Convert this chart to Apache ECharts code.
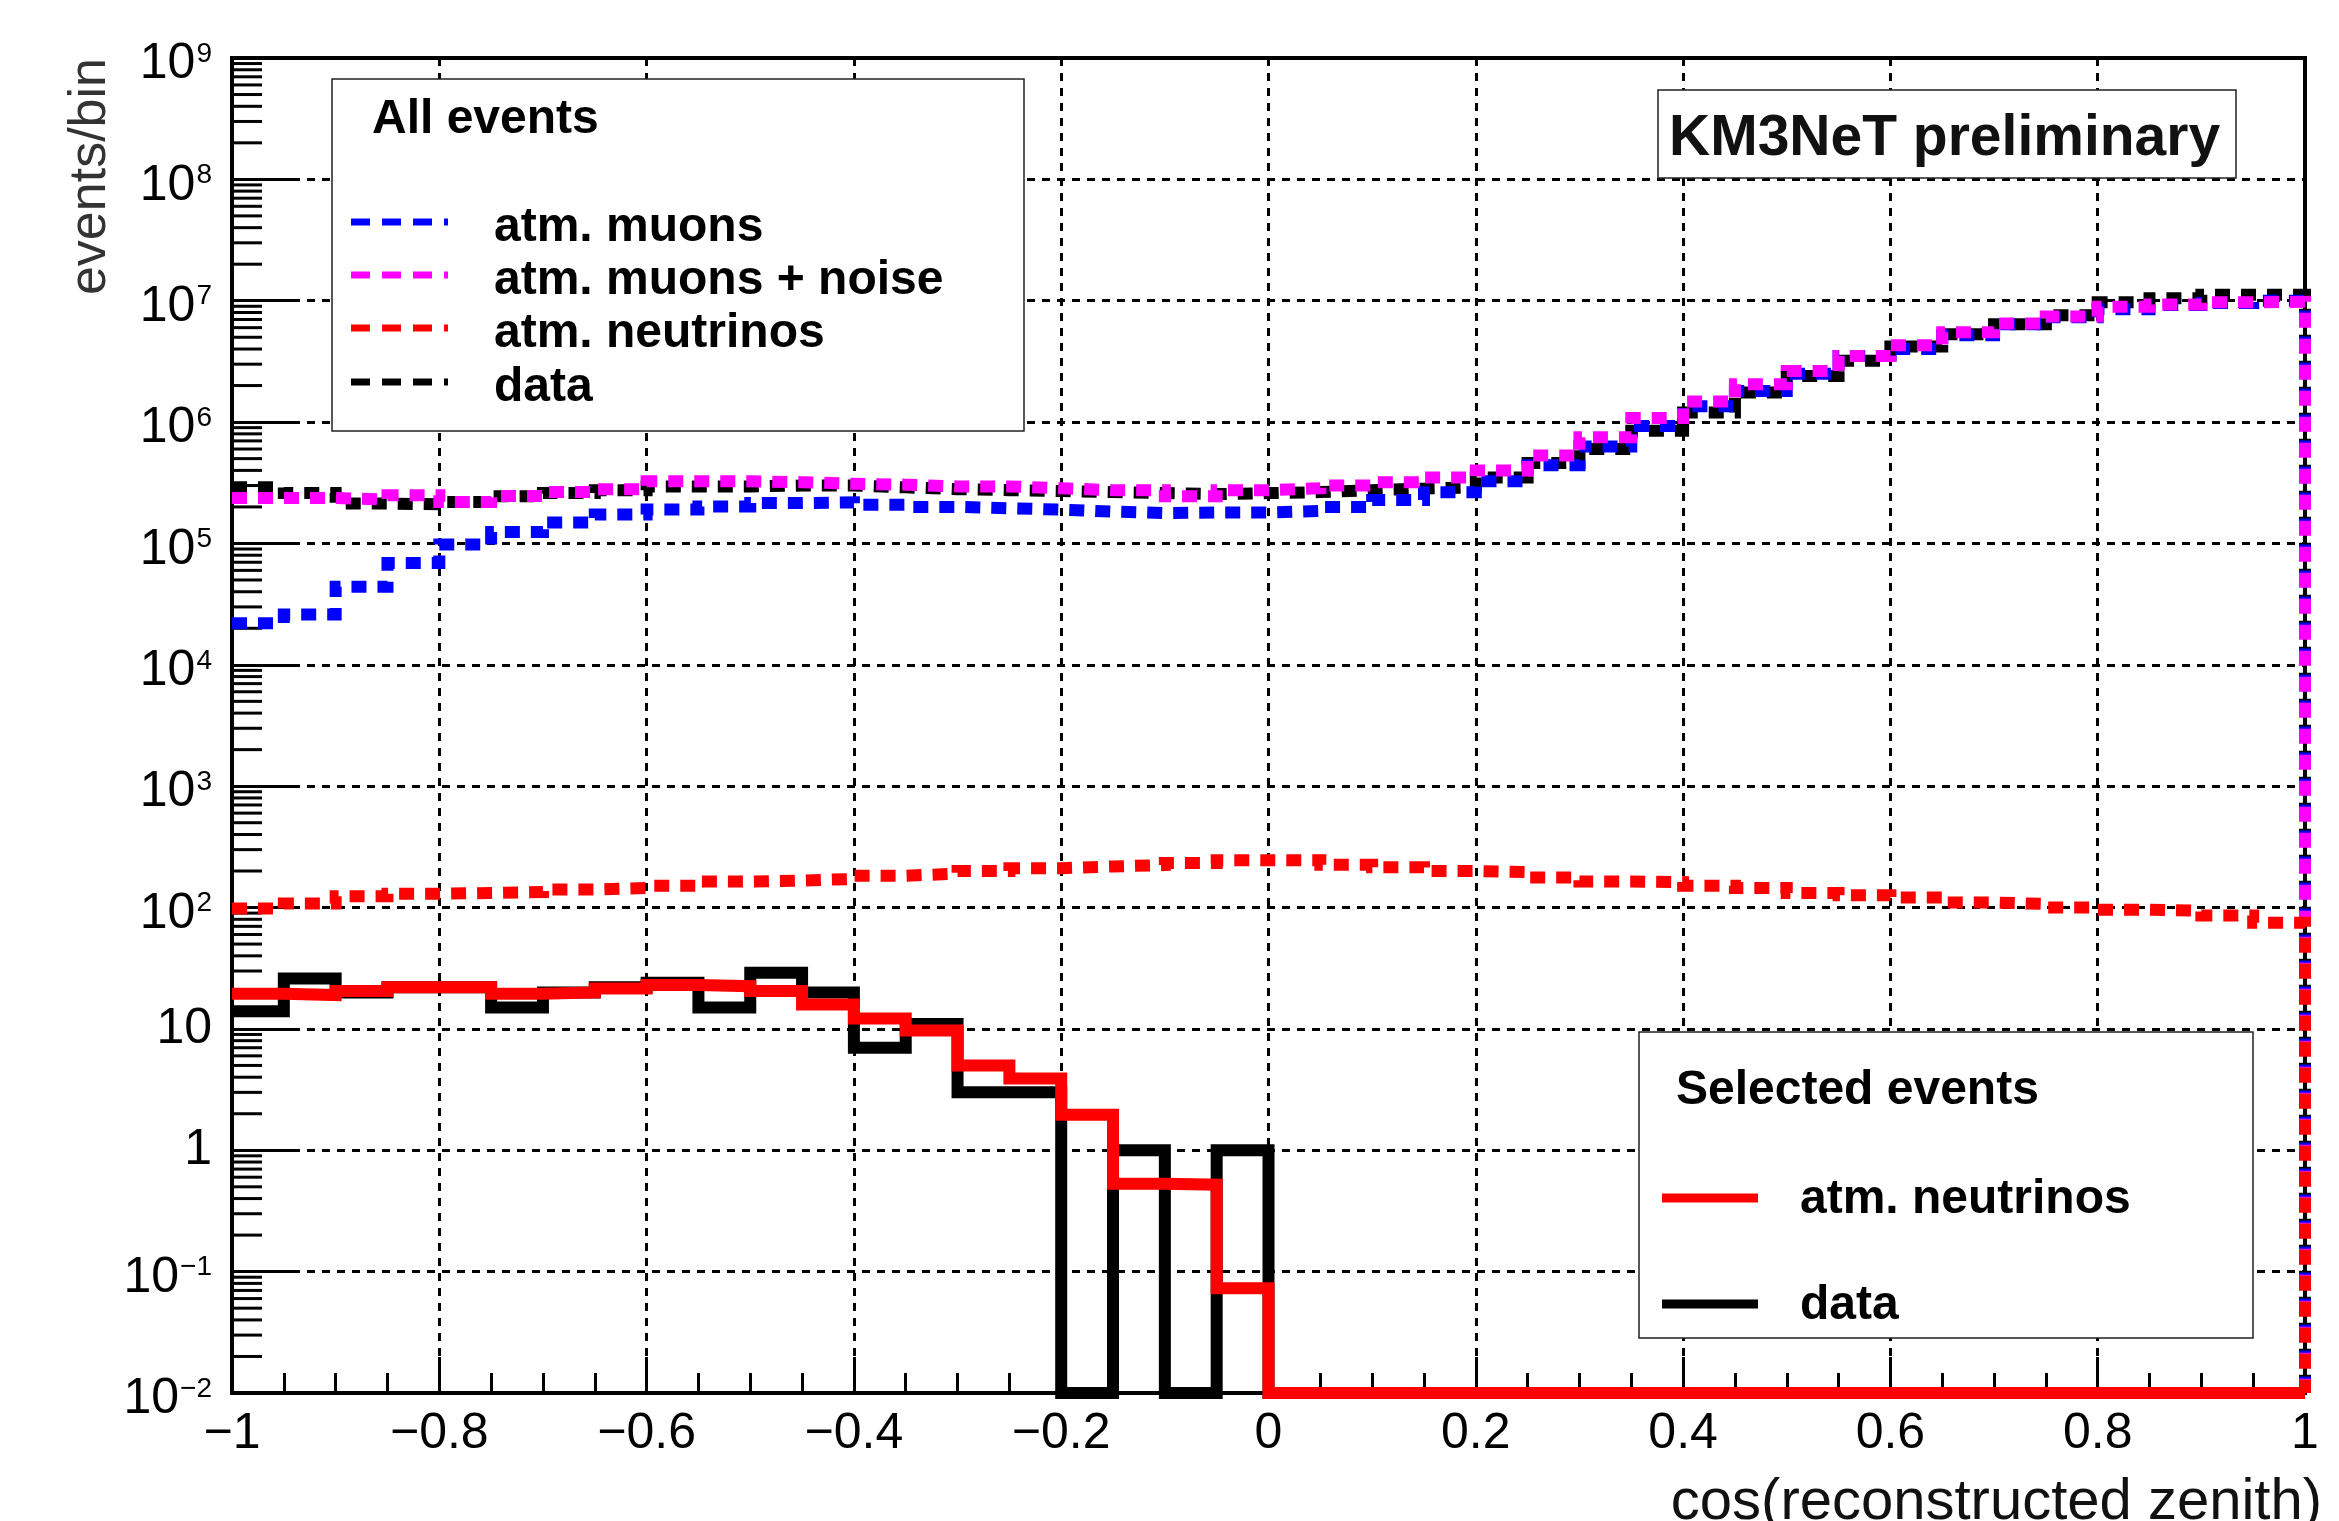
<!DOCTYPE html>
<html>
<head>
<meta charset="utf-8">
<title>cos(reconstructed zenith)</title>
<script src="https://cdn.jsdelivr.net/npm/echarts@6/dist/echarts.min.js"></script>
<style>
  html, body { margin: 0; padding: 0; background: #fff; }
  #chart { width: 2339px; height: 1521px; }
</style>
</head>
<body>
<div id="chart"></div>
<script>
const FONT = "'Liberation Sans', Arial, Helvetica, sans-serif";
const Y_MIN = 0.01;
const Y_MAX = 1e9;
const X_MIN = -1;
const X_MAX = 1;

// lower edges of the 40 bins (width 0.05)
const binLow = [
  -1.00, -0.95, -0.90, -0.85, -0.80, -0.75, -0.70, -0.65, -0.60, -0.55,
  -0.50, -0.45, -0.40, -0.35, -0.30, -0.25, -0.20, -0.15, -0.10, -0.05,
   0.00,  0.05,  0.10,  0.15,  0.20,  0.25,  0.30,  0.35,  0.40,  0.45,
   0.50,  0.55,  0.60,  0.65,  0.70,  0.75,  0.80,  0.85,  0.90,  0.95
];

// All events
const allMuons = [
  2.2e4, 2.6e4, 4.4e4, 6.9e4, 9.8e4, 1.24e5, 1.49e5, 1.73e5, 1.9e5, 2.02e5,
  2.15e5, 2.18e5, 2.08e5, 2.0e5, 1.95e5, 1.9e5, 1.83e5, 1.78e5, 1.8e5, 1.8e5,
  1.85e5, 2.0e5, 2.28e5, 2.64e5, 3.25e5, 4.4e5, 6.3e5, 9.3e5, 1.35e6, 1.8e6,
  2.5e6, 3.5e6, 4.0e6, 5.2e6, 6.4e6, 7.3e6, 8.5e6, 9.2e6, 9.6e6, 1.0e7
];
const allMuonsNoise = [
  2.37e5, 2.37e5, 2.3e5, 2.5e5, 2.2e5, 2.46e5, 2.65e5, 2.8e5, 3.25e5, 3.25e5,
  3.2e5, 3.1e5, 3.05e5, 2.95e5, 2.95e5, 2.85e5, 2.75e5, 2.75e5, 2.45e5, 2.75e5,
  2.85e5, 3.0e5, 3.2e5, 3.5e5, 4.0e5, 5.3e5, 7.5e5, 1.08e6, 1.48e6, 2.05e6,
  2.64e6, 3.5e6, 4.3e6, 5.5e6, 6.5e6, 7.4e6, 8.9e6, 9.3e6, 9.7e6, 9.8e6
];
const allNeutrinos = [
  98, 108, 124, 130, 132, 134, 141, 145, 151, 164,
  167, 172, 183, 190, 200, 211, 218, 224, 233, 245,
  245, 225, 215, 200, 196, 177, 164, 162, 151, 145,
  132, 126, 121, 110, 107, 100, 96, 94, 86, 75
];
const allData = [
  2.9e5, 2.6e5, 2.13e5, 2.1e5, 2.2e5, 2.45e5, 2.6e5, 2.75e5, 2.95e5, 2.95e5,
  3.0e5, 3.0e5, 2.9e5, 2.8e5, 2.75e5, 2.7e5, 2.65e5, 2.6e5, 2.55e5, 2.6e5,
  2.65e5, 2.75e5, 2.83e5, 2.9e5, 3.5e5, 4.6e5, 6.0e5, 8.5e5, 1.2e6, 1.75e6,
  2.4e6, 3.2e6, 4.2e6, 5.3e6, 6.4e6, 7.6e6, 9.7e6, 1.05e7, 1.12e7, 1.12e7
];

// Selected events
const selNeutrinos = [
  19.5, 19, 20.5, 22, 22, 19.5, 20, 21.5, 23, 22.5,
  20.5, 15.9, 12.2, 9.7, 5.0, 3.9, 1.96, 0.53, 0.52, 0.073,
  0, 0, 0, 0, 0, 0, 0, 0, 0, 0,
  0, 0, 0, 0, 0, 0, 0, 0, 0, 0
];
const selData = [
  14, 26, 20, 22, 22, 15, 20, 22, 24, 15,
  29, 20, 7, 11, 3, 3, 0, 1, 0, 1,
  0, 0, 0, 0, 0, 0, 0, 0, 0, 0,
  0, 0, 0, 0, 0, 0, 0, 0, 0, 0
];

const yDecades = [-2, -1, 0, 1, 2, 3, 4, 5, 6, 7, 8, 9];
const yMinorSteps = [2, 3, 4, 5, 6, 7, 8, 9];

// empty bins sit on the axis floor, like ROOT does on a log scale
function histPoints(vals) {
  const pts = vals.map((v, i) => [binLow[i], Math.max(v, Y_MIN)]);
  pts.push([X_MAX, Math.max(vals[vals.length - 1], Y_MIN)]);
  pts.push([X_MAX, Y_MIN]);
  return pts;
}

const yMinorTicks = [];
yDecades.slice(0, -1).forEach((e) => {
  yMinorSteps.forEach((m) => yMinorTicks.push([X_MIN, m * Math.pow(10, e)]));
});

function yLabel(v) {
  const e = Math.round(Math.log10(v));
  if (e === 0) return '{p|1}';
  if (e === 1) return '{p|10}';
  return '{b|10}{s|' + (e < 0 ? '\u2212' + (-e) : e) + '}';
}

function histSeries(name, vals, color, dashed) {
  return {
    name: name,
    type: 'line',
    step: 'end',
    data: histPoints(vals),
    showSymbol: false,
    clip: false,
    silent: true,
    lineStyle: {
      color: color,
      width: 12,
      type: dashed ? [15, 11] : 'solid',
      cap: 'butt',
      join: 'miter'
    }
  };
}

const chart = echarts.init(document.getElementById('chart'), null, { renderer: 'canvas' });

const legendRows1 = [
  { label: 'atm. muons', color: '#0000ff', y: 224 },
  { label: 'atm. muons + noise', color: '#ff00ff', y: 277 },
  { label: 'atm. neutrinos', color: '#ff0000', y: 330 },
  { label: 'data', color: '#000000', y: 384 }
];
const legendRows2 = [
  { label: 'atm. neutrinos', color: '#ff0000', y: 1198 },
  { label: 'data', color: '#000000', y: 1304 }
];

const graphics = [
  // All events legend
  { type: 'rect', z: 100, shape: { x: 332, y: 79, width: 692, height: 352 },
    style: { fill: '#fff', stroke: '#222', lineWidth: 1.5 } },
  { type: 'text', z: 101, x: 372, y: 120,
    style: { text: 'All events', font: 'bold 48px ' + FONT, fill: '#000', verticalAlign: 'middle' } },
  // Selected events legend
  { type: 'rect', z: 100, shape: { x: 1639, y: 1032, width: 614, height: 306 },
    style: { fill: '#fff', stroke: '#222', lineWidth: 1.5 } },
  { type: 'text', z: 101, x: 1676, y: 1091,
    style: { text: 'Selected events', font: 'bold 48px ' + FONT, fill: '#000', verticalAlign: 'middle' } },
  // KM3NeT label
  { type: 'rect', z: 100, shape: { x: 1658, y: 90, width: 578, height: 88 },
    style: { fill: '#fff', stroke: '#222', lineWidth: 1.5 } },
  { type: 'text', z: 101, x: 1669, y: 139,
    style: { text: 'KM3NeT preliminary', font: 'bold 57px ' + FONT, fill: '#111', verticalAlign: 'middle' } },
  // axis titles
  { type: 'text', z: 101, x: 91, y: 58, rotation: Math.PI / 2,
    style: { text: 'events/bin', font: '52px ' + FONT, fill: '#333', align: 'right', verticalAlign: 'middle' } },
  { type: 'text', z: 101, x: 2322, y: 1503,
    style: { text: 'cos(reconstructed zenith)', font: '58px ' + FONT, fill: '#111', align: 'right', verticalAlign: 'middle' } }
];
legendRows1.forEach((r) => {
  graphics.push({ type: 'line', z: 101, shape: { x1: 351, y1: r.y - 2, x2: 448, y2: r.y - 2 },
    style: { stroke: r.color, lineWidth: 7, lineDash: [19, 12] } });
  graphics.push({ type: 'text', z: 101, x: 494, y: r.y + 4,
    style: { text: r.label, font: 'bold 48px ' + FONT, fill: '#000', verticalAlign: 'middle' } });
});
legendRows2.forEach((r) => {
  graphics.push({ type: 'line', z: 101, shape: { x1: 1662, y1: r.y, x2: 1758, y2: r.y },
    style: { stroke: r.color, lineWidth: 9 } });
  graphics.push({ type: 'text', z: 101, x: 1800, y: r.y + 2,
    style: { text: r.label, font: 'bold 48px ' + FONT, fill: '#000', verticalAlign: 'middle' } });
});

const options = {
  animation: false,
  backgroundColor: '#fff',
  grid: {
    left: 232, top: 58, width: 2073, height: 1335,
    show: true, borderColor: '#000', borderWidth: 4, backgroundColor: 'transparent'
  },
  xAxis: {
    type: 'value',
    min: X_MIN,
    max: X_MAX,
    interval: 0.2,
    axisLine: { show: true, onZero: false, lineStyle: { color: '#000', width: 4 } },
    axisTick: { show: true, inside: true, length: 36, lineStyle: { color: '#000', width: 3 } },
    minorTick: { show: true, splitNumber: 4, length: 20, lineStyle: { color: '#000', width: 3 } },
    splitLine: { show: true, lineStyle: { color: '#000', width: 3, type: [8, 7] } },
    axisLabel: {
      margin: 16,
      fontSize: 50,
      fontFamily: FONT,
      color: '#000',
      formatter: (v) => String(Math.round(v * 10) / 10).replace('-', '\u2212')
    }
  },
  yAxis: {
    type: 'log',
    logBase: 10,
    min: Y_MIN,
    max: Y_MAX,
    interval: 1,
    axisLine: { show: true, onZero: false, lineStyle: { color: '#000', width: 4 } },
    axisTick: { show: true, inside: true, length: 62, lineStyle: { color: '#000', width: 3 } },
    splitLine: { show: true, lineStyle: { color: '#000', width: 3, type: [8, 7] } },
    axisLabel: {
      margin: 20,
      color: '#000',
      formatter: yLabel,
      rich: {
        p: { fontSize: 50, lineHeight: 50, fontFamily: FONT, color: '#000' },
        b: { fontSize: 50, lineHeight: 50, fontFamily: FONT, color: '#000', padding: [13, 0, 0, 0] },
        s: { fontSize: 28, lineHeight: 28, fontFamily: FONT, color: '#000', padding: [7, 0, 0, 1], verticalAlign: 'top' }
      }
    }
  },
  graphic: graphics,
  series: [
    histSeries('data (all)', allData, '#000000', true),
    histSeries('atm. muons', allMuons, '#0000ff', true),
    histSeries('atm. muons + noise', allMuonsNoise, '#ff00ff', true),
    histSeries('atm. neutrinos (all)', allNeutrinos, '#ff0000', true),
    histSeries('data (selected)', selData, '#000000', false),
    histSeries('atm. neutrinos (selected)', selNeutrinos, '#ff0000', false),
    {
      name: 'y minor ticks',
      type: 'custom',
      silent: true,
      clip: false,
      data: yMinorTicks,
      encode: { x: 0, y: 1 },
      renderItem: (params, api) => {
        const p = api.coord([api.value(0), api.value(1)]);
        return {
          type: 'line',
          shape: { x1: p[0], y1: p[1], x2: p[0] + 30, y2: p[1] },
          style: { stroke: '#000', lineWidth: 3 }
        };
      }
    }
  ]
};

chart.setOption(options);
</script>
</body>
</html>
